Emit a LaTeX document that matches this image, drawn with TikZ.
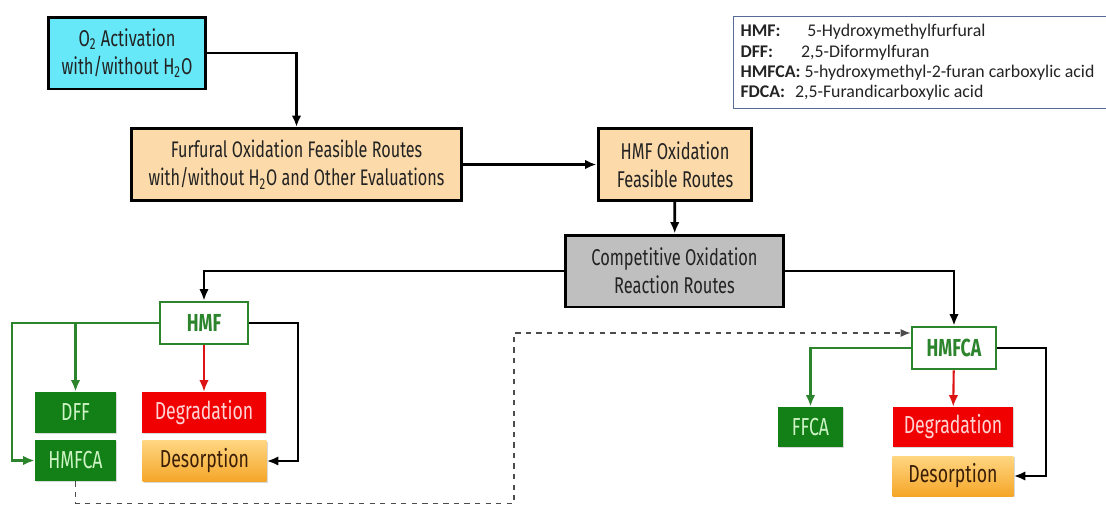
\documentclass[tikz,border=0pt]{standalone}
\usepackage{fontspec}
\setmainfont{Fira Sans}[FakeStretch=0.72]
\newfontfamily\legendfont{Carlito}
\usepackage{tikz}
\usetikzlibrary{arrows.meta,shadows}
\definecolor{cyanfill}{RGB}{102,232,248}
\definecolor{peach}{RGB}{252,218,170}
\definecolor{graybox}{RGB}{191,191,191}
\definecolor{darkgreen}{RGB}{18,128,22}
\definecolor{midgreen}{RGB}{44,132,44}
\definecolor{palegreen}{RGB}{206,244,198}
\definecolor{redbox}{RGB}{240,0,0}
\definecolor{pinktext}{RGB}{255,212,212}
\definecolor{redline}{RGB}{222,20,20}
\definecolor{orangetop}{RGB}{255,214,130}
\definecolor{orangebot}{RGB}{245,166,40}
\definecolor{browntext}{RGB}{58,30,6}
\definecolor{txtdark}{RGB}{35,35,35}
\definecolor{legendline}{RGB}{86,108,150}
\newcommand{\abbr}[2]{\makebox[#1][l]{\textbf{#2}}}
\tikzset{
  flowarrow/.style={-{Latex[length=2.3mm,width=1.9mm]}, line width=1.6pt},
  greenflow/.style={flowarrow, draw=midgreen},
  redflow/.style={flowarrow, draw=redline, line width=1.2pt},
  loopflow/.style={-{Latex[length=2mm,width=1.6mm]}, dashed, line width=0.8pt, draw=black!70},
  bigbox/.style={draw, line width=1.7pt, minimum height=1.44cm, align=center, text=txtdark, font=\fontsize{13}{16}\selectfont},
  speciesbox/.style={draw=midgreen, line width=1.5pt, fill=white, text=midgreen, minimum height=0.84cm, font=\fontsize{14}{16}\selectfont\bfseries},
  outbox/.style={minimum height=0.82cm, font=\fontsize{14}{16}\selectfont, drop shadow={shadow xshift=0.6pt, shadow yshift=-0.8pt, opacity=0.3}},
  productbox/.style={outbox, fill=darkgreen, text=palegreen},
  degradebox/.style={outbox, fill=redbox, text=pinktext},
  desorbbox/.style={outbox, top color=orangetop, bottom color=orangebot, text=browntext}
}
\begin{document}
\begin{tikzpicture}[x=0.02cm, y=-0.02cm]
  \useasboundingbox (0,0) rectangle (1106,504);
  % main route
  \node[bigbox, fill=cyanfill, minimum width=3.16cm] (o2) at (127,53) {O\textsubscript{2} Activation\\with/without H\textsubscript{2}O};
  \node[bigbox, fill=peach, minimum width=6.62cm, font=\fontsize{12.8}{16}\selectfont] (furfural) at (296.5,164.5) {Furfural Oxidation Feasible Routes\\with/without H\textsubscript{2}O and Other Evaluations};
  \node[bigbox, fill=peach, minimum width=3.08cm] (hmfox) at (675,164.5) {HMF Oxidation\\Feasible Routes};
  \node[bigbox, fill=graybox, minimum width=4.38cm] (compet) at (674.5,271) {Competitive Oxidation\\Reaction Routes};
  % legend
  \node[draw=legendline, line width=0.6pt, anchor=north west, minimum height=1.84cm, text width=8cm, inner xsep=4pt, align=flush left, text=txtdark,
        font=\legendfont\fontsize{10.15}{11.6}\selectfont] (legend) at (733,16)
    {\abbr{38pt}{HMF:}5-Hydroxymethylfurfural\\
     \abbr{34.5pt}{DFF:}2,5-Diformylfuran\\
     \textbf{HMFCA:} 5-hydroxymethyl-2-furan carboxylic acid\\
     \abbr{31pt}{FDCA:}2,5-Furandicarboxylic acid};
  % HMF branch
  \node[speciesbox, minimum width=1.76cm] (hmf) at (204,323) {HMF};
  \node[productbox, minimum width=1.62cm] (dff) at (75.5,412.5) {DFF};
  \node[productbox, minimum width=1.62cm] (hmfcaL) at (75.5,460.5) {HMFCA};
  \node[degradebox, minimum width=2.48cm] (degL) at (204,412.5) {Degradation};
  \node[desorbbox, minimum width=2.48cm] (desL) at (204.5,461) {Desorption};
  % HMFCA branch
  \node[speciesbox, minimum width=1.68cm] (hmfcaR) at (954,348) {HMFCA};
  \node[productbox, minimum width=1.3cm, minimum height=0.8cm] (ffca) at (810.5,427) {FFCA};
  \node[degradebox, minimum width=2.4cm, minimum height=0.8cm] (degR) at (953,427) {Degradation};
  \node[desorbbox, minimum width=2.42cm, minimum height=0.8cm] (desR) at (953,476) {Desorption};
  \coordinate (gl) at (12,323);
  \coordinate (bl) at (298,323);
  \coordinate (br) at (1046,348);
  \coordinate (db) at (514,503.5);
  \coordinate (dt) at (514,333);

  \draw[flowarrow] (o2) -| (furfural);
  \draw[flowarrow] (furfural) -- (hmfox);
  \draw[flowarrow] (hmfox) -- (compet);
  \draw[flowarrow] (compet) -| (hmf);
  \draw[flowarrow] (compet) -| (hmfcaR);

  \draw[greenflow] (hmf.west) -- (gl) |- (hmfcaL.west);
  \draw[greenflow] (hmf.west -| dff) -- (dff);
  \draw[redflow] (hmf) -- (degL);
  \draw[flowarrow] (hmf.east) -- (bl) |- (desL.east);

  \draw[greenflow] (hmfcaR) -| (ffca);
  \draw[redflow] (hmfcaR) -- (degR);
  \draw[flowarrow] (hmfcaR.east) -- (br) |- (desR.east);

  \draw[loopflow] (hmfcaL.south) |- (db) -- (dt) -- (dt -| hmfcaR.west);
\end{tikzpicture}
\end{document}
